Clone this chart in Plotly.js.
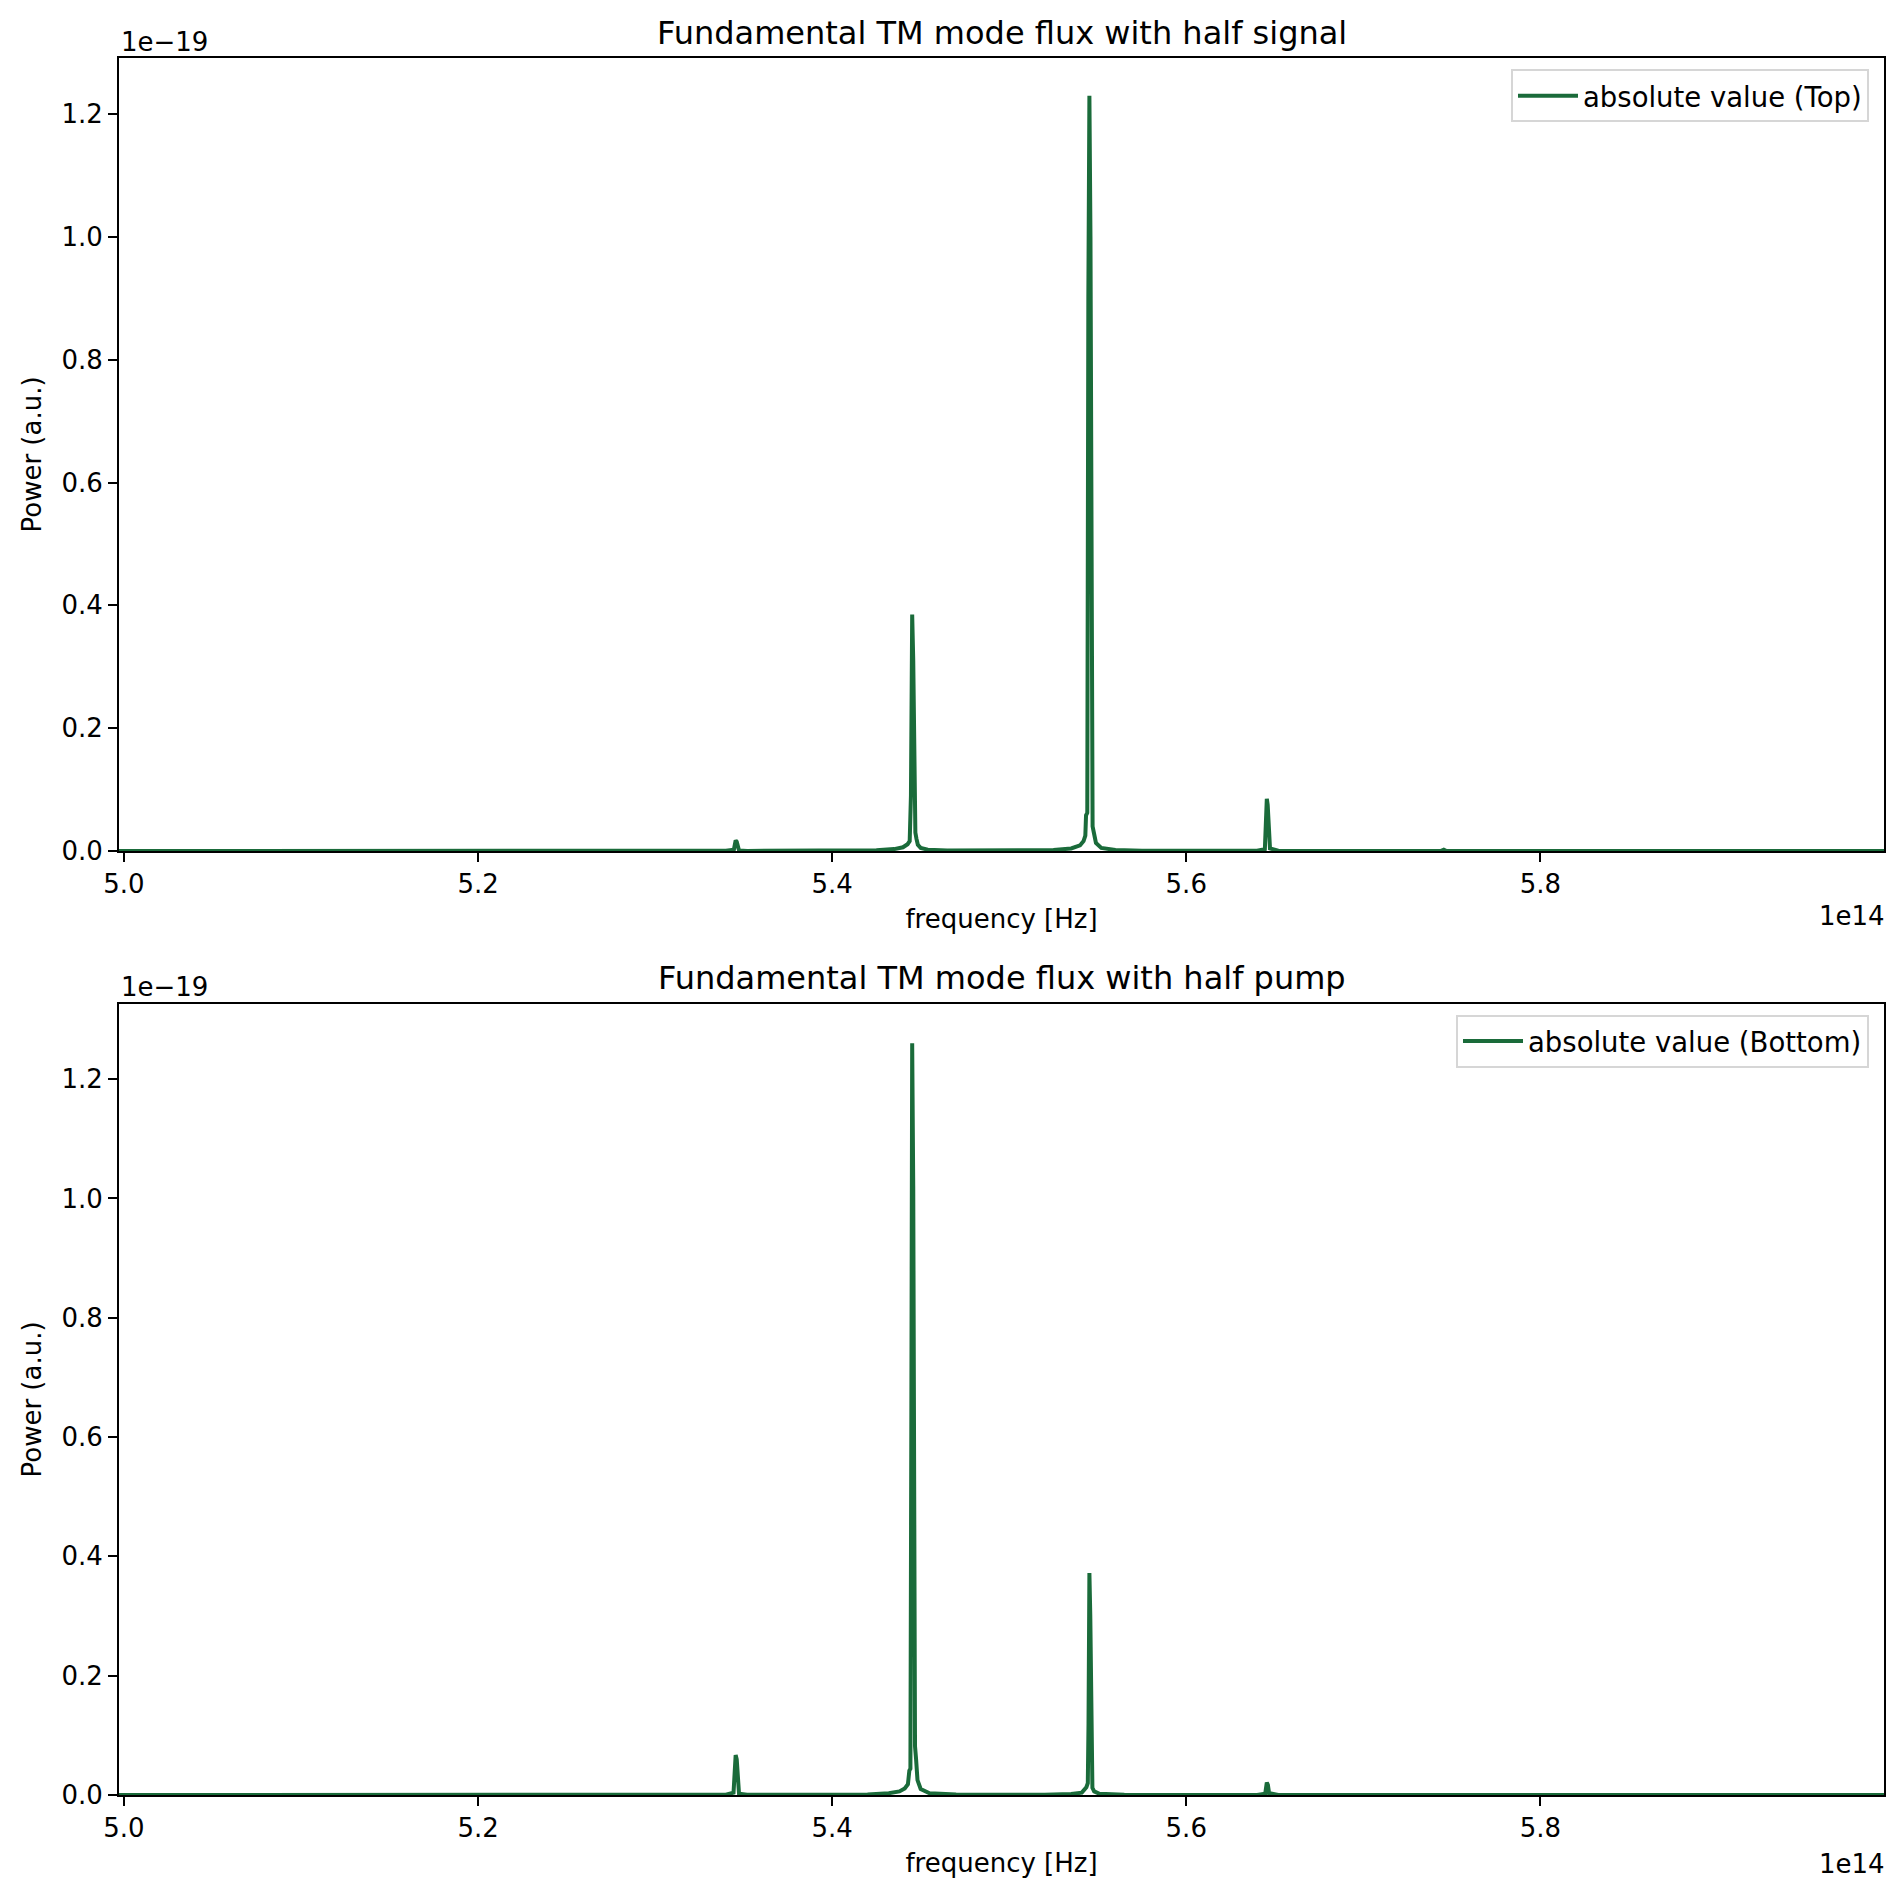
<!DOCTYPE html>
<html>
<head>
<meta charset="utf-8">
<script src="https://cdn.plot.ly/plotly-3.0.1.min.js"></script>
<style>html,body{margin:0;padding:0;background:#fff;}#chart{width:1902px;height:1899px;}</style>
</head>
<body>
<div id="chart"></div>
<script>
// Frequencies in units of 1e14 Hz, power in units of 1e-19 (a.u.)
var freqTop = [4.997, 5.300, 5.340, 5.3445, 5.3450, 5.3455, 5.3461, 5.3467, 5.3474, 5.352,
  5.400, 5.425, 5.435, 5.440, 5.4426, 5.4438, 5.4445, 5.4452, 5.4458, 5.4464, 5.4470, 5.4476, 5.4484, 5.4500, 5.4540, 5.4650,
  5.500, 5.525, 5.535, 5.540, 5.5420, 5.5430, 5.5434, 5.5441, 5.5447, 5.5453, 5.5459, 5.5465, 5.5471, 5.5478, 5.5490, 5.5520, 5.5600, 5.5750,
  5.610, 5.640, 5.6444, 5.6450, 5.6455, 5.6460, 5.6466, 5.6473, 5.6520,
  5.700, 5.744, 5.7455, 5.747, 5.800, 5.9945];
var powerTop = [0, 0, 0.0003, 0.002, 0.009, 0.017, 0.015, 0.004, 0.0008, 0,
  0.0004, 0.001, 0.003, 0.006, 0.011, 0.016, 0.09, 0.385, 0.31, 0.08, 0.03, 0.02, 0.010, 0.005, 0.002, 0.0006,
  0.0006, 0.0015, 0.004, 0.009, 0.016, 0.025, 0.058, 0.062, 0.9, 1.23, 1.0, 0.2, 0.04, 0.03, 0.013, 0.005, 0.0015, 0.0004,
  0.0002, 0.0005, 0.003, 0.035, 0.085, 0.075, 0.02, 0.004, 0.0005,
  0, 0, 0.002, 0, 0, 0];

var freqBottom = [4.997, 5.240, 5.300, 5.340, 5.3443, 5.3449, 5.3455, 5.3461, 5.3467, 5.3474, 5.352,
  5.400, 5.420, 5.432, 5.438, 5.441, 5.4428, 5.4436, 5.4442, 5.4447, 5.4452, 5.4458, 5.4464, 5.4468, 5.4474, 5.4482, 5.4500, 5.4550, 5.4700,
  5.500, 5.520, 5.535, 5.541, 5.5436, 5.5444, 5.5448, 5.5453, 5.5458, 5.5464, 5.5470, 5.5480, 5.5510, 5.5650,
  5.610, 5.640, 5.6446, 5.6451, 5.6455, 5.6461, 5.6468, 5.652,
  5.700, 5.744, 5.7455, 5.747, 5.800, 5.9945];
var powerBottom = [0, 0, 0, 0.0005, 0.004, 0.035, 0.067, 0.060, 0.015, 0.002, 0.0003,
  0.0003, 0.001, 0.003, 0.006, 0.011, 0.018, 0.041, 0.044, 0.6, 1.26, 1.02, 0.4, 0.082, 0.06, 0.025, 0.010, 0.003, 0.0008,
  0.0003, 0.0003, 0.0015, 0.004, 0.013, 0.02, 0.12, 0.372, 0.30, 0.06, 0.012, 0.006, 0.002, 0.0003,
  0, 0, 0.002, 0.012, 0.021, 0.017, 0.003, 0,
  0, 0, 0.0008, 0, 0, 0];

var xTickVals = [5.0, 5.2, 5.4, 5.6, 5.8];
var xTickText = ['5.0', '5.2', '5.4', '5.6', '5.8'];
var yTickVals = [0.0, 0.2, 0.4, 0.6, 0.8, 1.0, 1.2];
var yTickText = ['0.0', '0.2', '0.4', '0.6', '0.8', '1.0', '1.2'];
var titles = ['Fundamental TM mode flux with half signal', 'Fundamental TM mode flux with half pump'];
var seriesNames = ['absolute value (Top)', 'absolute value (Bottom)'];

var lineColor = '#1a6b3a';
var font = 'DejaVu Sans, sans-serif';

var traces = [
  {x: freqTop, y: powerTop, type: 'scatter', mode: 'lines', name: seriesNames[0],
   line: {color: lineColor, width: 4}, xaxis: 'x', yaxis: 'y', legend: 'legend'},
  {x: freqBottom, y: powerBottom, type: 'scatter', mode: 'lines', name: seriesNames[1],
   line: {color: lineColor, width: 4}, xaxis: 'x2', yaxis: 'y2', legend: 'legend2'}
];

function xAxis(anchor) {
  return {
    anchor: anchor, domain: [0, 1], range: [4.9972, 5.9941],
    tickmode: 'array', tickvals: xTickVals, ticktext: xTickText,
    ticks: 'outside', ticklen: 9, tickwidth: 2, tickcolor: '#000',
    showline: true, linewidth: 2, linecolor: '#000', mirror: true,
    showgrid: false, zeroline: false,
    tickfont: {family: font, size: 26, color: '#000'},
    title: {text: 'frequency [Hz]', font: {family: font, size: 26, color: '#000'}, standoff: 12}
  };
}
function yAxis(anchor, domain, top) {
  return {
    anchor: anchor, domain: domain, range: [0, top],
    tickmode: 'array', tickvals: yTickVals, ticktext: yTickText,
    ticks: 'outside', ticklen: 9, tickwidth: 2, tickcolor: '#000',
    showline: true, linewidth: 2, linecolor: '#000', mirror: true,
    showgrid: false, zeroline: false,
    tickfont: {family: font, size: 26, color: '#000'},
    title: {text: 'Power (a.u.)', font: {family: font, size: 26, color: '#000'}, standoff: 12}
  };
}

var legendCommon = {
  xanchor: 'right', yanchor: 'top', bgcolor: 'rgba(255,255,255,0.8)',
  bordercolor: '#d6d6d6', borderwidth: 2, itemwidth: 60,
  font: {family: font, size: 27.5, color: '#000'}
};

var layout = {
  width: 1902, height: 1899,
  paper_bgcolor: '#fff', plot_bgcolor: '#fff',
  margin: {l: 119, r: 18, t: 58, b: 104},
  showlegend: true,
  xaxis: xAxis('y'),
  yaxis: yAxis('x', [0.5435, 1], 1.2915),
  xaxis2: xAxis('y2'),
  yaxis2: yAxis('x2', [0, 0.4554], 1.326),
  legend: Object.assign({x: 0.9915, y: 0.9934}, legendCommon),
  legend2: Object.assign({x: 0.9915, y: 0.4493}, legendCommon),
  annotations: [
    {text: titles[0], xref: 'paper', yref: 'paper', x: 0.5, y: 1.0144, xanchor: 'center', yanchor: 'middle', showarrow: false,
     font: {family: font, size: 32, color: '#000'}},
    {text: titles[1], xref: 'paper', yref: 'paper', x: 0.5, y: 0.4704, xanchor: 'center', yanchor: 'middle', showarrow: false,
     font: {family: font, size: 32, color: '#000'}},
    {text: '1e\u221219', xref: 'paper', yref: 'paper', x: 0.0, y: 1.0092, xanchor: 'left', yanchor: 'middle', showarrow: false,
     font: {family: font, size: 26, color: '#000'}},
    {text: '1e\u221219', xref: 'paper', yref: 'paper', x: 0.0, y: 0.4652, xanchor: 'left', yanchor: 'middle', showarrow: false,
     font: {family: font, size: 26, color: '#000'}},
    {text: '1e14', xref: 'paper', yref: 'paper', x: 1.0015, y: 0.5060, xanchor: 'right', yanchor: 'middle', showarrow: false,
     font: {family: font, size: 26, color: '#000'}},
    {text: '1e14', xref: 'paper', yref: 'paper', x: 1.0015, y: -0.0397, xanchor: 'right', yanchor: 'middle', showarrow: false,
     font: {family: font, size: 26, color: '#000'}}
  ]
};

Plotly.newPlot('chart', traces, layout, {staticPlot: true, displayModeBar: false});
</script>
</body>
</html>
